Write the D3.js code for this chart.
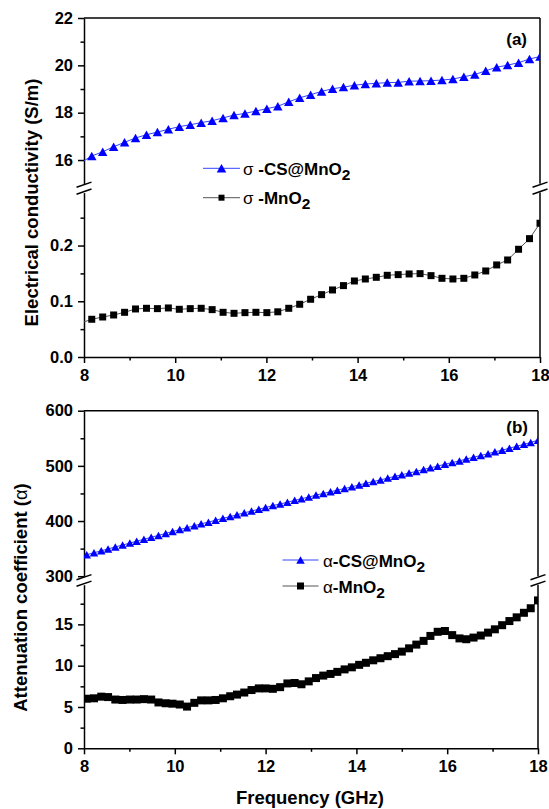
<!DOCTYPE html>
<html>
<head>
<meta charset="utf-8">
<script src="https://cdn.jsdelivr.net/npm/d3@7"></script>
<style>
  html, body { margin: 0; padding: 0; background: #fff; }
  svg { display: block; font-family: "Liberation Sans", Arial, Helvetica, sans-serif; }
</style>
</head>
<body>
<svg id="chart" width="549" height="809"></svg>
<script>
// ---------- Panel (a): electrical conductivity ----------
// first entry (8.00 GHz) only starts the line; symbols begin at the second
const freqA = [8.00, 8.17, 8.41, 8.65, 8.89, 9.13, 9.37, 9.61, 9.85, 10.09, 10.33,
  10.57, 10.81, 11.05, 11.29, 11.53, 11.77, 12.01, 12.25, 12.49, 12.73, 12.97,
  13.21, 13.45, 13.69, 13.93, 14.17, 14.41, 14.65, 14.89, 15.13, 15.37, 15.61,
  15.85, 16.09, 16.33, 16.57, 16.81, 17.05, 17.29, 17.53, 17.77, 18.00];
const sigmaCS = [15.97, 16.17, 16.35, 16.56, 16.75, 16.93, 17.07, 17.18, 17.30, 17.41, 17.49,
  17.58, 17.66, 17.78, 17.90, 17.97, 18.07, 18.17, 18.27, 18.46, 18.63, 18.76,
  18.90, 19.01, 19.08, 19.16, 19.21, 19.24, 19.27, 19.28, 19.33, 19.34, 19.35,
  19.38, 19.42, 19.52, 19.61, 19.77, 19.92, 20.01, 20.11, 20.27, 20.37];
const sigmaMn = [0.063, 0.0677, 0.0718, 0.0754, 0.0802, 0.0862, 0.0874, 0.0868, 0.0880, 0.0856, 0.0868,
  0.0874, 0.0850, 0.0802, 0.0784, 0.0796, 0.0802, 0.0796, 0.0811, 0.0874, 0.0946, 0.1036,
  0.1119, 0.1203, 0.1281, 0.1364, 0.1400, 0.1430, 0.1466, 0.1478, 0.1490, 0.1496, 0.1460,
  0.1412, 0.1400, 0.1412, 0.1472, 0.1544, 0.1652, 0.1741, 0.1933, 0.2124, 0.2400];

// ---------- Panel (b): attenuation coefficient ----------
const freqB = [8.06, 8.22, 8.38, 8.53, 8.69, 8.85, 9.01, 9.16, 9.32, 9.48, 9.64, 9.80,
  9.95, 10.11, 10.27, 10.43, 10.58, 10.74, 10.90, 11.06, 11.22, 11.37, 11.53, 11.69,
  11.85, 12.00, 12.16, 12.32, 12.48, 12.64, 12.79, 12.95, 13.11, 13.27, 13.43, 13.58,
  13.74, 13.90, 14.06, 14.21, 14.37, 14.53, 14.69, 14.85, 15.00, 15.16, 15.32, 15.48,
  15.63, 15.79, 15.95, 16.11, 16.27, 16.42, 16.58, 16.74, 16.90, 17.05, 17.21, 17.37,
  17.53, 17.69, 17.84, 18.00];
const alphaCS = [339, 342.5, 346, 349.5, 353, 356.5, 360, 363.5, 367, 370.5, 374, 377.5,
  381, 384.5, 388, 391.5, 395, 398, 401.5, 405, 408, 411.5, 415, 418,
  421.5, 424.5, 428, 431, 434, 437.5, 440.5, 443.5, 447, 450, 453, 456,
  459, 462, 465.5, 468.5, 471.5, 474.5, 478, 481, 484, 487, 490, 493.5,
  496.5, 499.5, 503, 506, 509, 512.5, 515.5, 519, 522, 525.5, 528.5, 532,
  535.5, 539, 542.5, 546.5];
const alphaMn = [6.0, 6.05, 6.25, 6.2, 5.9, 5.85, 5.9, 5.9, 5.95, 5.9, 5.55, 5.45,
  5.4, 5.3, 5.05, 5.5, 5.8, 5.8, 5.85, 6.05, 6.3, 6.5, 6.75, 7.05,
  7.25, 7.25, 7.2, 7.4, 7.85, 7.9, 7.75, 8.1, 8.5, 8.8, 9.0, 9.25,
  9.55, 9.8, 10.1, 10.35, 10.65, 10.9, 11.15, 11.4, 11.7, 12.1, 12.55, 13.0,
  13.6, 14.1, 14.2, 13.7, 13.3, 13.2, 13.4, 13.65, 14.0, 14.4, 14.9, 15.4,
  15.85, 16.4, 16.95, 17.9];

// ---------- axis ticks ----------
const freqTicks = [8, 10, 12, 14, 16, 18];
const freqMinor = [9, 11, 13, 15, 17];
const sigmaTopTicks = [16, 18, 20, 22];
const sigmaTopMinor = [17, 19, 21];
const sigmaBotTicks = [0, 0.1, 0.2];
const sigmaBotMinor = [0.05, 0.15, 0.25];
const alphaTopTicks = [300, 400, 500, 600];
const alphaTopMinor = [350, 450, 550];
const alphaBotTicks = [0, 5, 10, 15];
const alphaBotMinor = [2.5, 7.5, 12.5, 17.5];

const svg = d3.select("#chart");
const BLUE = "#0000ff";
const BLUE_LINE = "#3345ff";
const GREY_LINE = "#555555";
const AXIS_W = 1.5;

// triangle path centred on its bounding box
function triPath(w, h) {
  return `M0,${-h / 2}L${w / 2},${h / 2}L${-w / 2},${h / 2}Z`;
}
function sqPath(s) {
  return `M${-s / 2},${-s / 2}h${s}v${s}h${-s}Z`;
}

function styleAxis(g, fontSize) {
  g.selectAll(".domain").attr("stroke", "#000").attr("stroke-width", AXIS_W);
  g.selectAll(".tick line").attr("stroke", "#000").attr("stroke-width", AXIS_W);
  g.selectAll(".tick text")
    .attr("fill", "#000")
    .style("font-size", fontSize + "px")
    .style("font-weight", "bold")
    .style("font-family", '"Liberation Sans", Arial, sans-serif');
}

function drawPanel(p) {
  const g = svg.append("g");
  const x = d3.scaleLinear().domain([8, 18]).range([p.left, p.right]);
  const yT = d3.scaleLinear().domain(p.topDomain).range([p.topEnd, p.top]);
  const yB = d3.scaleLinear().domain(p.botDomain).range([p.bottom, p.botStart]);

  const clipId = "clip-" + p.id;
  svg.append("defs").append("clipPath").attr("id", clipId)
    .append("rect").attr("x", p.left).attr("y", p.top - 20)
    .attr("width", p.right - p.left).attr("height", p.bottom - p.top + 40);

  // left axis, upper segment
  const lt = g.append("g").attr("transform", `translate(${p.left},0)`)
    .call(d3.axisLeft(yT).tickValues(p.topTicks).tickSize(6).tickSizeOuter(0)
      .tickPadding(5).tickFormat(p.topFmt));
  styleAxis(lt, 16.5);
  const ltm = g.append("g").attr("transform", `translate(${p.left},0)`)
    .call(d3.axisLeft(yT).tickValues(p.topMinor).tickSize(3.5).tickFormat(""));
  ltm.select(".domain").remove();
  styleAxis(ltm, 16.5);

  // left axis, lower segment
  const lb = g.append("g").attr("transform", `translate(${p.left},0)`)
    .call(d3.axisLeft(yB).tickValues(p.botTicks).tickSize(6).tickSizeOuter(0)
      .tickPadding(5).tickFormat(p.botFmt));
  styleAxis(lb, 16.5);
  const lbm = g.append("g").attr("transform", `translate(${p.left},0)`)
    .call(d3.axisLeft(yB).tickValues(p.botMinor).tickSize(3.5).tickFormat(""));
  lbm.select(".domain").remove();
  styleAxis(lbm, 16.5);

  // bottom axis
  const bx = g.append("g").attr("transform", `translate(0,${p.bottom})`)
    .call(d3.axisBottom(x).tickValues(freqTicks).tickSize(6).tickSizeOuter(0)
      .tickPadding(6).tickFormat(d3.format("d")));
  styleAxis(bx, 16.5);
  const bxm = g.append("g").attr("transform", `translate(0,${p.bottom})`)
    .call(d3.axisBottom(x).tickValues(freqMinor).tickSize(3.5).tickFormat(""));
  bxm.select(".domain").remove();
  styleAxis(bxm, 16.5);

  // frame: top line and right side (split at the break)
  const frame = g.append("g").attr("stroke", "#000").attr("stroke-width", AXIS_W).attr("fill", "none");
  frame.append("line").attr("x1", p.left).attr("x2", p.right).attr("y1", p.top).attr("y2", p.top);
  frame.append("line").attr("x1", p.right).attr("x2", p.right).attr("y1", p.top).attr("y2", p.topEnd);
  frame.append("line").attr("x1", p.right).attr("x2", p.right).attr("y1", p.botStart).attr("y2", p.bottom);

  // break marks on both sides
  [p.left, p.right].forEach(xx => {
    [p.topEnd + 1, p.botStart - 1].forEach(yy => {
      frame.append("line")
        .attr("x1", xx - 7.5).attr("y1", yy + 2.6)
        .attr("x2", xx + 7.5).attr("y2", yy - 2.6);
    });
  });

  // data
  const plot = g.append("g").attr("clip-path", `url(#${clipId})`);

  const lineTop = d3.line().x(d => x(d[0])).y(d => yT(d[1]));
  const lineBot = d3.line().x(d => x(d[0])).y(d => yB(d[1]));
  const upper = p.freq.map((f, i) => [f, p.upper[i]]);
  const lower = p.freq.map((f, i) => [f, p.lower[i]]);

  plot.append("path").datum(upper).attr("d", lineTop)
    .attr("fill", "none").attr("stroke", BLUE_LINE).attr("stroke-width", 1);
  plot.append("path").datum(lower).attr("d", lineBot)
    .attr("fill", "none").attr("stroke", GREY_LINE).attr("stroke-width", 1);

  plot.selectAll(".tri").data(upper.slice(p.symbolStart)).join("path")
    .attr("class", "tri")
    .attr("transform", d => `translate(${x(d[0])},${yT(d[1])})`)
    .attr("d", triPath(p.triW, p.triH))
    .attr("fill", BLUE);
  plot.selectAll(".sq").data(lower.slice(p.symbolStart)).join("path")
    .attr("class", "sq")
    .attr("transform", d => `translate(${x(d[0])},${yB(d[1])})`)
    .attr("d", sqPath(p.sq))
    .attr("fill", "#000");

  // legend
  const lg = g.append("g");
  const entries = [
    { y: p.legY[0], base: p.legBase[0], line: BLUE_LINE, sym: triPath(p.triW, p.triH), fill: BLUE, name: "-CS@MnO" },
    { y: p.legY[1], base: p.legBase[1], line: GREY_LINE, sym: sqPath(p.sq - 1), fill: "#000", name: "-MnO" }
  ];
  entries.forEach(e => {
    lg.append("line").attr("x1", p.legX0).attr("x2", p.legX1).attr("y1", e.y).attr("y2", e.y)
      .attr("stroke", e.line).attr("stroke-width", 1);
    lg.append("path").attr("transform", `translate(${(p.legX0 + p.legX1) / 2},${e.y})`)
      .attr("d", e.sym).attr("fill", e.fill);
    const t = lg.append("text").attr("x", p.legText).attr("y", e.base)
      .style("font-size", "17px").style("font-weight", "bold").attr("fill", "#000");
    t.append("tspan").style("font-weight", "normal").text(p.symbol);
    t.append("tspan").text(p.sep + e.name);
    t.append("tspan").attr("dy", 5).style("font-size", "15.5px").text("2");
  });

  // panel tag
  g.append("text").attr("x", p.tagX).attr("y", p.tagY).attr("text-anchor", "end")
    .style("font-size", "17px").style("font-weight", "bold").text(p.tag);

  // y title
  const yt = g.append("text")
    .attr("transform", `translate(${p.yTitleX},${p.yTitleY}) rotate(-90)`)
    .attr("text-anchor", "middle")
    .style("font-size", "18.5px").style("font-weight", "bold");
  p.yTitle.forEach(part => {
    const s = yt.append("tspan").text(part.t);
    if (part.normal) s.style("font-weight", "normal");
  });
}

drawPanel({
  id: "a", left: 84, right: 540, top: 18, topEnd: 183.7, botStart: 192.6, bottom: 357,
  topDomain: [15, 22], botDomain: [0, 0.295],
  topTicks: sigmaTopTicks, topMinor: sigmaTopMinor, topFmt: d3.format("d"),
  botTicks: sigmaBotTicks, botMinor: sigmaBotMinor, botFmt: d3.format(".1f"),
  freq: freqA, upper: sigmaCS, lower: sigmaMn, symbolStart: 1,
  triW: 9.5, triH: 8.5, sq: 7,
  legX0: 203, legX1: 240, legText: 243, legY: [168.3, 197.7], legBase: [175, 204.3],
  symbol: "σ", sep: " ",
  tag: "(a)", tagX: 527, tagY: 45,
  yTitleX: 38, yTitleY: 202.5,
  yTitle: [{ t: "Electrical conductivity (S/m)" }]
});

drawPanel({
  id: "b", left: 84, right: 538, top: 410.7, topEnd: 576.2, botStart: 584.7, bottom: 748.3,
  topDomain: [300, 600], botDomain: [0, 19.8],
  topTicks: alphaTopTicks, topMinor: alphaTopMinor, topFmt: d3.format("d"),
  botTicks: alphaBotTicks, botMinor: alphaBotMinor, botFmt: d3.format("d"),
  freq: freqB, upper: alphaCS, lower: alphaMn, symbolStart: 0,
  triW: 8.5, triH: 7.5, sq: 8,
  legX0: 282.5, legX1: 318.5, legText: 323, legY: [560, 586], legBase: [566.5, 592.5],
  symbol: "α", sep: "",
  tag: "(b)", tagX: 528, tagY: 433,
  yTitleX: 27, yTitleY: 597.5,
  yTitle: [{ t: "Attenuation coefficient (" }, { t: "α", normal: true }, { t: ")" }]
});

// shared x title
svg.append("text").attr("x", 310).attr("y", 804).attr("text-anchor", "middle")
  .style("font-size", "18.5px").style("font-weight", "bold").text("Frequency (GHz)");
</script>
</body>
</html>
